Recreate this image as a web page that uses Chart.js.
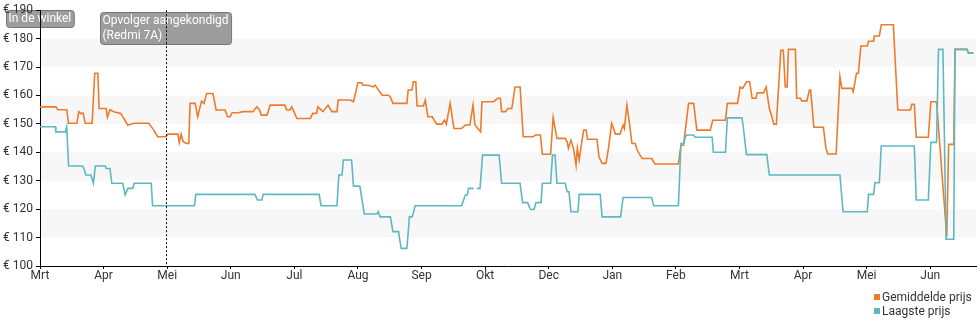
<!DOCTYPE html>
<html>
<head>
<meta charset="utf-8">
<script src="https://cdn.jsdelivr.net/npm/chart.js@4/dist/chart.umd.min.js"></script>
<style>
  body { margin: 0; background: #fff; font-family: Roboto, "Noto Sans", sans-serif; }
  #wrap { position: relative; width: 980px; height: 325px; }
  #legend { position: absolute; left: 874px; top: 290px; font-size: 12px; color: #333; line-height: 14px; }
  #legend span.sw { display: inline-block; width: 6px; height: 6px; margin-right: 2px; vertical-align: 1px; }
</style>
</head>
<body>
<div id="wrap">
  <canvas id="price-chart" width="980" height="325"></canvas>
  <div id="legend"></div>
</div>
<script>
// x values are in months since the first "Mrt" tick
const monthLabels = ['Mrt', 'Apr', 'Mei', 'Jun', 'Jul', 'Aug', 'Sep', 'Okt', 'Dec', 'Jan', 'Feb', 'Mrt', 'Apr', 'Mei', 'Jun'];
const priceTicks = [100, 110, 120, 130, 140, 150, 160, 170, 180, 190];
const shadedBands = [[170, 180], [150, 160], [130, 140], [110, 120]];

const avgPrice = [
    [0, 156], [0.25, 156], [0.28, 155], [0.42, 155], [0.45, 150.2], [0.58, 150.2], [0.61, 154.3], [0.64, 153.7], [0.68, 153.7],
    [0.71, 150.2], [0.82, 150.2], [0.86, 167.8], [0.91, 167.8], [0.93, 155.4], [1.04, 155.4], [1.06, 152.3], [1.10, 155],
    [1.16, 154.3], [1.27, 153.7], [1.38, 149.6], [1.48, 150.2], [1.71, 150.2], [1.79, 147.8], [1.85, 145.5], [1.98, 145.5],
    [2.01, 146.4], [2.17, 146.4], [2.19, 143.4], [2.22, 146.4], [2.25, 143.8], [2.30, 143.1], [2.34, 143.1], [2.36, 157.2],
    [2.44, 157.2], [2.48, 152.5], [2.54, 158], [2.58, 157.2], [2.62, 160.7], [2.72, 160.7], [2.77, 154.9], [2.91, 154.9],
    [2.95, 152.5], [2.99, 152.5], [3.02, 153.9], [3.12, 153.9], [3.19, 154.3], [3.35, 154.3], [3.41, 156], [3.45, 155],
    [3.48, 153.1], [3.57, 153.1], [3.62, 156.6], [3.85, 156.6], [3.88, 154.9], [3.93, 154.9], [3.96, 156], [4.04, 151.9],
    [4.25, 151.9], [4.29, 153.7], [4.35, 153.7], [4.37, 156], [4.45, 154.3], [4.53, 156.6], [4.59, 154.3], [4.67, 154.3],
    [4.69, 158.4], [4.88, 158.4], [4.93, 157.8], [5.00, 164.5], [5.06, 164.5], [5.08, 163.6], [5.16, 163.6], [5.24, 163],
    [5.27, 163.6], [5.38, 160.1], [5.48, 160.1], [5.51, 159.5], [5.55, 157.2], [5.77, 157.2], [5.79, 161.9], [5.85, 161.9],
    [5.87, 164.8], [5.91, 164.8], [5.93, 156.3], [6.03, 156.3], [6.06, 158.4], [6.10, 152.5], [6.17, 152.5], [6.20, 151.3],
    [6.24, 149.9], [6.32, 149.9], [6.36, 151.3], [6.39, 149.9], [6.45, 157.2], [6.51, 148.4], [6.63, 148.4], [6.69, 149.6],
    [6.76, 149.6], [6.81, 156.6], [6.84, 149.6], [6.93, 147.2], [6.95, 157.8], [7.13, 157.8], [7.20, 159], [7.24, 159],
    [7.26, 154.3], [7.32, 154.3], [7.34, 154.9], [7.36, 155.4], [7.42, 155.4], [7.47, 163], [7.55, 163], [7.60, 145.5],
    [7.76, 145.5], [7.79, 146.1], [7.87, 146.1], [7.90, 139.3], [8.03, 139.3], [8.07, 152.3], [8.13, 144.9], [8.26, 144.9],
    [8.29, 143.7], [8.31, 141.4], [8.35, 144.3], [8.39, 141.4], [8.43, 135.5], [8.45, 141.4], [8.48, 137.3], [8.52, 143.7],
    [8.55, 147.8], [8.59, 147.8], [8.61, 144.6], [8.76, 144.6], [8.79, 138.4], [8.84, 136.1], [8.90, 136.1], [8.94, 141.4],
    [8.99, 150.2], [9.05, 146.4], [9.12, 146.4], [9.17, 149.6], [9.19, 148.4], [9.23, 156.6], [9.27, 150.2], [9.31, 143.1],
    [9.36, 143.1], [9.39, 140.8], [9.47, 137.8], [9.62, 137.8], [9.67, 135.9], [10.04, 135.9], [10.08, 142.5], [10.12, 142.5],
    [10.20, 157.2], [10.28, 157.2], [10.33, 147.8], [10.54, 147.8], [10.58, 151.3], [10.78, 151.3], [10.81, 157.2],
    [10.97, 157.2], [11.01, 163], [11.05, 162.5], [11.11, 164.8], [11.16, 164.8], [11.20, 159], [11.26, 159], [11.28, 160.9],
    [11.38, 160.9], [11.42, 163], [11.47, 155.4], [11.51, 152.5], [11.54, 149.9], [11.58, 149.9], [11.65, 175.9],
    [11.69, 175.9], [11.72, 163], [11.75, 163], [11.77, 176.2], [11.88, 176.2], [11.90, 159], [11.96, 159], [11.98, 158.1],
    [12.06, 158.1], [12.10, 161.9], [12.12, 161.9], [12.17, 148.8], [12.32, 148.8], [12.36, 141.4], [12.39, 139.4],
    [12.52, 139.4], [12.58, 166.6], [12.61, 162.5], [12.77, 162.5], [12.79, 161.3], [12.84, 167.8], [12.87, 167.8],
    [12.91, 177.4], [13.01, 177.4], [13.03, 179.1], [13.11, 179.1], [13.12, 180.9], [13.20, 180.9], [13.23, 184.9],
    [13.42, 184.9], [13.49, 154.9], [13.69, 154.9], [13.71, 156.9], [13.75, 156.9], [13.78, 145.3], [13.97, 145.3],
    [14.01, 157.8], [14.10, 157.8], [14.26, 110.3], [14.29, 142.8], [14.37, 142.8], [14.39, 176.2], [14.58, 176.2],
    [14.60, 175], [14.68, 175]
];

const lowPrice = [
    [0, 149], [0.24, 149], [0.25, 147.2], [0.40, 147.2], [0.42, 149], [0.45, 135.2], [0.67, 135.2], [0.70, 133.8], [0.72, 132],
    [0.80, 132], [0.84, 129.1], [0.87, 135.2], [1.03, 135.2], [1.04, 134.3], [1.10, 134.3], [1.13, 129.1], [1.30, 129.1],
    [1.34, 125], [1.38, 127.3], [1.46, 127.3], [1.48, 129.1], [1.75, 129.1], [1.77, 121.2], [2.43, 121.2], [2.45, 125.2],
    [3.38, 125.2], [3.42, 123.2], [3.49, 123.2], [3.51, 125.2], [4.39, 125.2], [4.42, 121.2], [4.67, 121.2], [4.70, 132],
    [4.75, 132], [4.77, 137.3], [4.90, 137.3], [4.93, 128.1], [5.03, 128.1], [5.10, 118.3], [5.30, 118.3], [5.32, 119.1],
    [5.35, 117.3], [5.51, 117.3], [5.55, 112.1], [5.64, 112.1], [5.65, 110.3], [5.68, 106.2], [5.77, 106.2], [5.81, 117.3],
    [5.85, 117.3], [5.87, 118.5], [5.90, 121.2], [6.63, 121.2], [6.69, 125], [6.72, 125], [6.74, 127.3], [6.82, 127.3],
    [6.85, null], [6.87, 127.3], [6.92, 127.3], [6.96, 139], [7.22, 139], [7.26, 129.1], [7.55, 129.1], [7.59, 122.3],
    [7.67, 122.3], [7.69, 121], [7.72, 119.9], [7.77, 119.9], [7.80, 122.3], [7.88, 122.3], [7.90, 129.1], [8.03, 129.1],
    [8.06, 139], [8.10, 139], [8.13, 129.1], [8.26, 129.1], [8.29, 126.1], [8.32, 126.1], [8.35, 119.1], [8.46, 119.1],
    [8.48, 125.2], [8.81, 125.2], [8.84, 117.3], [9.13, 117.3], [9.17, 124.1], [9.62, 124.1], [9.65, 121.2], [10.04, 121.2],
    [10.08, 143.1], [10.12, 143.1], [10.16, 146.1], [10.28, 146.1], [10.30, 145.3], [10.57, 145.3], [10.59, 140],
    [10.78, 140], [10.81, 152.1], [11.04, 152.1], [11.06, 149], [11.11, 139.2], [11.43, 139.2], [11.47, 132], [12.58, 132],
    [12.63, 119.1], [13.01, 119.1], [13.03, 125.2], [13.11, 125.2], [13.13, 129.3], [13.20, 129.3], [13.23, 142.2],
    [13.75, 142.2], [13.78, 123.2], [13.97, 123.2], [14.01, 143.5], [14.10, 143.5], [14.13, 176.2], [14.20, 176.2],
    [14.25, 109.4], [14.37, 109.4], [14.39, 176.2], [14.58, 176.2], [14.60, 175], [14.68, 175]
];

const series = [
    { label: 'Gemiddelde prijs', color: '#ee7b2c', points: avgPrice, order: 1 },
    { label: 'Laagste prijs', color: '#5cb9c4', points: lowPrice, order: 0 }
];

const events = [
    { x: 0, lines: ['In de winkel'], dashed: false },
    { x: 1.98, lines: ['Opvolger aangekondigd', '(Redmi 7A)'], dashed: true }
];

const FONT = 'Roboto, "Noto Sans", sans-serif';

// light grey horizontal bands + event label boxes, under the axes
const backdropPlugin = {
    id: 'backdrop',
    beforeDraw(chart) {
        const { ctx, chartArea: a, scales: { x, y } } = chart;
        ctx.save();
        ctx.fillStyle = '#f7f7f7';
        shadedBands.forEach(([lo, hi]) => {
            const top = y.getPixelForValue(hi);
            ctx.fillRect(a.left, top, a.right - a.left, y.getPixelForValue(lo) - top);
        });
        ctx.font = '12px ' + FONT;
        events.forEach(ev => {
            const w = Math.max(...ev.lines.map(t => ctx.measureText(t).width)) + 5;
            const h = ev.lines.length * 15 + 2;
            const cx = x.getPixelForValue(ev.x);
            const left = Math.round(cx - w / 2) + 0.5;
            const top = ev.dashed ? 12.5 : 10.5;
            ctx.fillStyle = 'rgba(140,140,140,0.85)';
            ctx.strokeStyle = 'rgba(110,110,110,0.9)';
            ctx.beginPath();
            ctx.roundRect(left, top, w, h, 3);
            ctx.fill();
            ctx.stroke();
            ctx.fillStyle = '#fff';
            ctx.textBaseline = 'top';
            ev.lines.forEach((t, i) => ctx.fillText(t, left + 2, top + 2 + i * 15));
        });
        ctx.restore();
    },
    afterDatasetsDraw(chart) {
        const { ctx, chartArea: a, scales: { x } } = chart;
        ctx.save();
        ctx.strokeStyle = '#000';
        ctx.lineWidth = 1;
        ctx.setLineDash([2, 2]);
        events.filter(ev => ev.dashed).forEach(ev => {
            const px = Math.round(x.getPixelForValue(ev.x)) + 0.5;
            ctx.beginPath();
            ctx.moveTo(px, a.top);
            ctx.lineTo(px, a.bottom);
            ctx.stroke();
        });
        ctx.restore();
    }
};

new Chart(document.getElementById('price-chart'), {
    type: 'line',
    data: {
        datasets: series.map(s => ({
            label: s.label,
            data: s.points.map(([x, y]) => ({ x, y })),
            borderColor: s.color,
            backgroundColor: s.color,
            borderWidth: 1.6,
            pointRadius: 0,
            tension: 0,
            spanGaps: false,
            fill: false,
            order: s.order
        }))
    },
    options: {
        responsive: false,
        animation: false,
        layout: { padding: { top: 10, right: 4, left: 0, bottom: 0 } },
        plugins: { legend: { display: false }, tooltip: { enabled: false } },
        scales: {
            x: {
                type: 'linear',
                min: 0,
                max: 14.72,
                afterBuildTicks: axis => { axis.ticks = monthLabels.map((_, i) => ({ value: i })); },
                afterFit: axis => { axis.height = 59; },
                ticks: {
                    callback: v => monthLabels[Math.round(v)],
                    autoSkip: false,
                    maxRotation: 0,
                    padding: 0,
                    color: '#333',
                    font: { family: FONT, size: 12 }
                },
                grid: { drawOnChartArea: false, drawTicks: true, tickLength: 3, color: '#000' },
                border: { color: '#000', width: 1 }
            },
            y: {
                min: 100,
                max: 190,
                afterBuildTicks: axis => { axis.ticks = priceTicks.map(v => ({ value: v })); },
                afterFit: axis => { axis.width = 40; },
                ticks: {
                    callback: v => '€ ' + v,
                    padding: 3,
                    color: '#333',
                    font: { family: FONT, size: 12 }
                },
                grid: { drawOnChartArea: false, drawTicks: true, tickLength: 4, color: '#000' },
                border: { color: '#000', width: 1 }
            }
        }
    },
    plugins: [backdropPlugin]
});

document.getElementById('legend').innerHTML = series.map(s =>
    `<div><span class="sw" style="background:${s.color}"></span>${s.label}</div>`
).join('');
</script>
</body>
</html>
